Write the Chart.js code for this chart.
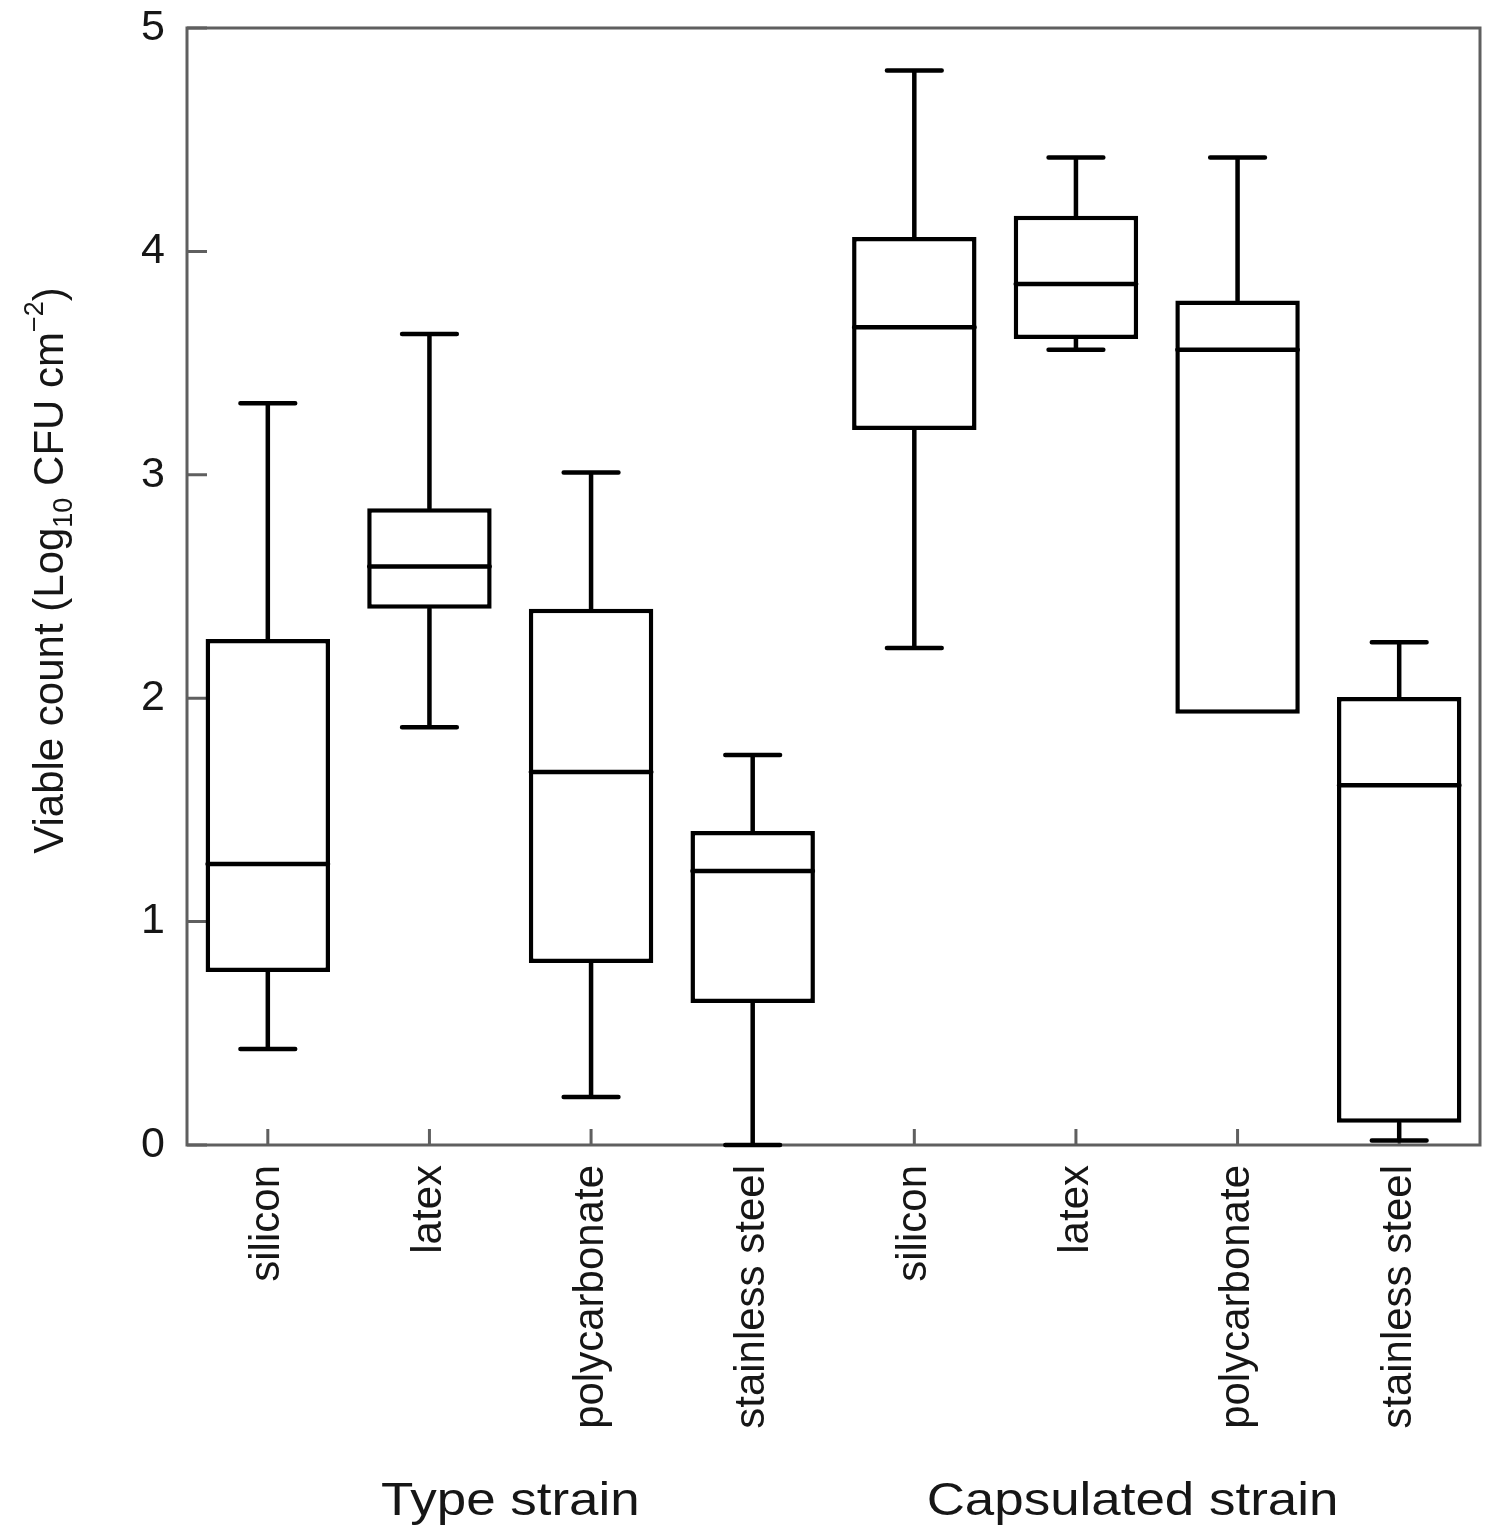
<!DOCTYPE html>
<html>
<head>
<meta charset="utf-8">
<script src="https://cdn.jsdelivr.net/npm/chart.js@4.4.1/dist/chart.umd.min.js"></script>
<style>
  html, body { margin: 0; padding: 0; background: #fff; }
  #wrap { width: 1500px; height: 1530px; }
</style>
</head>
<body>
<div id="wrap"><canvas id="boxChart" width="1500" height="1530"></canvas></div>
<script>
// --- Data ---
const materials = ['silicon', 'latex', 'polycarbonate', 'stainless steel',
                   'silicon', 'latex', 'polycarbonate', 'stainless steel'];
const groupNames = ['Type strain', 'Capsulated strain'];
const whiskerLow  = [0.43, 1.87, 0.215, 0.0, 2.225, 3.56, 1.93, 0.02];
const quart1      = [0.774, 2.40, 0.815, 0.636, 3.20, 3.608, 1.93, 0.10];
const medians     = [1.258, 2.59, 1.67, 1.226, 3.66, 3.854, 3.56, 1.61];
const quart3      = [2.265, 2.85, 2.40, 1.406, 4.065, 4.16, 3.78, 2.005];
const whiskerHigh = [3.32, 3.63, 3.01, 1.746, 4.81, 4.42, 4.42, 2.25];
const yTicks      = [0, 1, 2, 3, 4, 5];

const FONT = "'Liberation Sans', Arial, Helvetica, sans-serif";
const TEXT = '#161616';

// frame + inward tick marks
const framePlugin = {
    id: 'frame',
    beforeDatasetsDraw(chart) {
        const { ctx, chartArea: a, scales: { x, y } } = chart;
        ctx.save();
        ctx.strokeStyle = '#5f5f5f';
        ctx.lineWidth = 3;
        ctx.strokeRect(a.left, a.top, a.right - a.left, a.bottom - a.top);
        ctx.beginPath();
        yTicks.forEach(v => {
            const py = y.getPixelForValue(v);
            ctx.moveTo(a.left, py);
            ctx.lineTo(a.left + 20, py);
        });
        materials.forEach((m, i) => {
            const px = x.getPixelForValue(i);
            ctx.moveTo(px, a.bottom);
            ctx.lineTo(px, a.bottom - 16);
        });
        ctx.stroke();
        ctx.restore();
    }
};

// whiskers, caps and medians on top of the floating bars
const boxPartsPlugin = {
    id: 'boxParts',
    afterDatasetsDraw(chart) {
        const { ctx, scales: { y } } = chart;
        const meta = chart.getDatasetMeta(0);
        ctx.save();
        ctx.strokeStyle = '#000';
        ctx.lineWidth = 4.5;
        ctx.lineCap = 'round';
        meta.data.forEach((bar, i) => {
            const cx = bar.x;
            const half = bar.width / 2;
            const capHalf = bar.width * 0.22;
            const yLo = y.getPixelForValue(whiskerLow[i]);
            const yQ1 = y.getPixelForValue(quart1[i]);
            const yMed = y.getPixelForValue(medians[i]);
            const yQ3 = y.getPixelForValue(quart3[i]);
            const yHi = y.getPixelForValue(whiskerHigh[i]);
            ctx.beginPath();
            // upper whisker
            ctx.moveTo(cx, yQ3); ctx.lineTo(cx, yHi);
            ctx.moveTo(cx - capHalf, yHi); ctx.lineTo(cx + capHalf, yHi);
            // lower whisker
            if (yLo - yQ1 > 1) {
                ctx.moveTo(cx, yQ1); ctx.lineTo(cx, yLo);
                ctx.moveTo(cx - capHalf, yLo); ctx.lineTo(cx + capHalf, yLo);
            }
            // median
            ctx.moveTo(cx - half + 2, yMed); ctx.lineTo(cx + half - 2, yMed);
            ctx.stroke();
        });
        ctx.restore();
    }
};

// y title with sub/superscript, and the two group captions
const textPlugin = {
    id: 'extraText',
    afterDraw(chart) {
        const { ctx, chartArea: a, scales: { x } } = chart;
        ctx.save();
        ctx.fillStyle = TEXT;

        // y axis title, rotated
        const big = '42px ' + FONT, small = '27px ' + FONT;
        const parts = [
            { t: 'Viable count (Log', f: big, dy: 0 },
            { t: '10', f: small, dy: 9 },
            { t: ' CFU cm', f: big, dy: 0 },
            { t: '\u22122', f: small, dy: -20 },
            { t: ')', f: big, dy: 0 }
        ];
        let total = 0;
        parts.forEach(p => { ctx.font = p.f; p.w = ctx.measureText(p.t).width; total += p.w; });
        const cy = (a.top + a.bottom) / 2;
        ctx.translate(63, cy - 16);
        ctx.rotate(-Math.PI / 2);
        ctx.textBaseline = 'alphabetic';
        ctx.textAlign = 'left';
        let px = -total / 2;
        parts.forEach(p => { ctx.font = p.f; ctx.fillText(p.t, px, p.dy); px += p.w; });
        ctx.setTransform(1, 0, 0, 1, 0, 0);

        // group captions below the rotated labels
        const groupCentres = [1.5, 5.35];
        ctx.font = '46px ' + FONT;
        ctx.textAlign = 'center';
        groupNames.forEach((g, k) => {
            const mid = x.getPixelForValue(groupCentres[k]);
            ctx.save();
            ctx.translate(mid, 1515);
            ctx.scale(1.15, 1);
            ctx.fillText(g, 0, 0);
            ctx.restore();
        });
        ctx.restore();
    }
};

const ctx = document.getElementById('boxChart').getContext('2d');
new Chart(ctx, {
    type: 'bar',
    data: {
        labels: materials,
        datasets: [{
            label: 'IQR',
            data: quart1.map((q, i) => [q, quart3[i]]),
            backgroundColor: '#fff',
            borderColor: '#000',
            borderWidth: 4.5,
            borderSkipped: false,
            barPercentage: 0.77,
            categoryPercentage: 1.0
        }]
    },
    options: {
        responsive: false,
        devicePixelRatio: 1,
        animation: false,
        layout: { padding: { left: 0, top: 28, right: 20, bottom: 0 } },
        plugins: {
            legend: { display: false },
            tooltip: { enabled: false }
        },
        scales: {
            x: {
                grid: { display: false, drawTicks: false },
                border: { display: false },
                ticks: {
                    autoSkip: false,
                    minRotation: 90,
                    maxRotation: 90,
                    padding: 20,
                    color: TEXT,
                    font: { family: FONT, size: 42 }
                },
                afterFit: s => {
                    s.height = 385;
                    s.paddingLeft = 0;
                    s.paddingRight = 0;
                }
            },
            y: {
                min: 0,
                max: 5,
                grid: { display: false, drawTicks: false },
                border: { display: false },
                ticks: {
                    stepSize: 1,
                    padding: 22,
                    color: TEXT,
                    font: { family: FONT, size: 43 }
                },
                afterFit: s => {
                    s.width = 187;
                    s.paddingTop = 0;
                    s.paddingBottom = 0;
                }
            }
        }
    },
    plugins: [framePlugin, boxPartsPlugin, textPlugin]
});
</script>
</body>
</html>
